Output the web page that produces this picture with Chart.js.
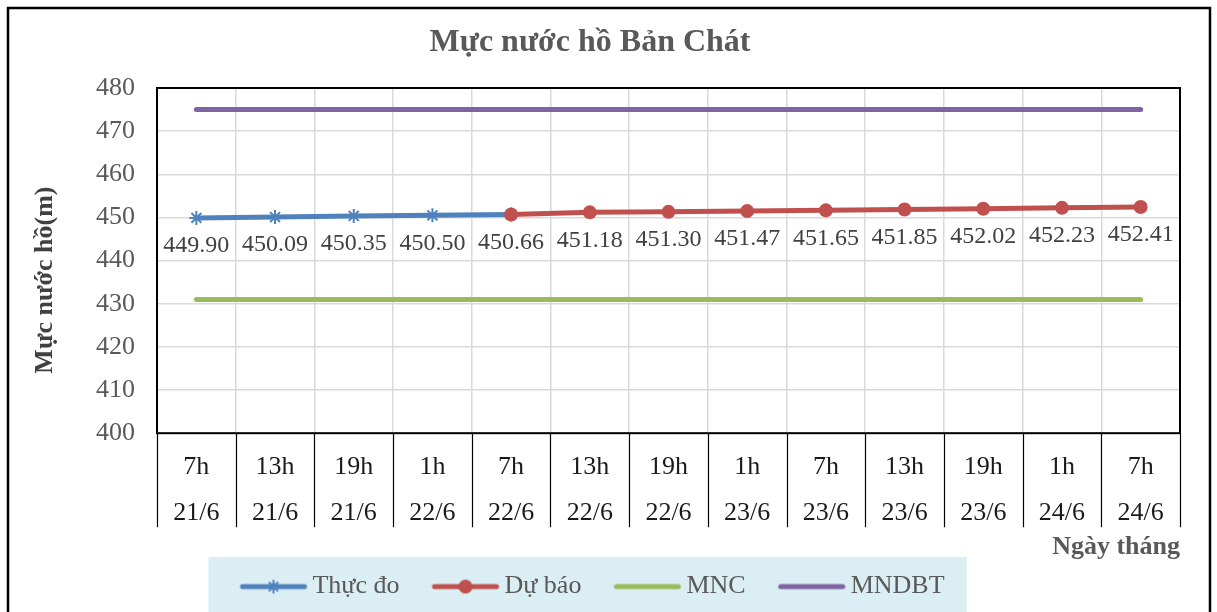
<!DOCTYPE html>
<html>
<head>
<meta charset="utf-8">
<script src="https://cdn.jsdelivr.net/npm/chart.js@4/dist/chart.umd.min.js"></script>
<style>
    body { margin: 0; background: #fff; }
</style>
</head>
<body>
<canvas id="chart-level" width="1217" height="612"></canvas>
<script>
// chart data
const hours = ['7h', '13h', '19h', '1h', '7h', '13h', '19h', '1h', '7h', '13h', '19h', '1h', '7h'];
const dates = ['21/6', '21/6', '21/6', '22/6', '22/6', '22/6', '22/6', '23/6', '23/6', '23/6', '23/6', '24/6', '24/6'];
const measured = [449.90, 450.09, 450.35, 450.50, 450.66, null, null, null, null, null, null, null, null];
const forecast = [null, null, null, null, 450.66, 451.18, 451.30, 451.47, 451.65, 451.85, 452.02, 452.23, 452.41];
const mnc = [431, 431, 431, 431, 431, 431, 431, 431, 431, 431, 431, 431, 431];
const mndbt = [475, 475, 475, 475, 475, 475, 475, 475, 475, 475, 475, 475, 475];
const yTicks = { min: 400, max: 480, step: 10 };

const SERIF = '"Liberation Serif", "Times New Roman", serif';
const BLUE = '#4F81BD';
const RED = '#C0504D';
const GREEN = '#9BBB59';
const PURPLE = '#8064A2';
const LEGEND_PAD = 40;
const LEGEND_SHIFT = -6;
const ICON_W = 70;
const BOX_W = 52;

function legendIcon(color, marker) {
    const c = document.createElement('canvas');
    c.width = ICON_W;
    c.height = 18;
    const ctx = c.getContext('2d');
    const mid = ICON_W / 2;
    ctx.strokeStyle = color;
    ctx.lineWidth = 5;
    ctx.lineCap = 'round';
    ctx.beginPath();
    ctx.moveTo(4, 9);
    ctx.lineTo(ICON_W - 4, 9);
    ctx.stroke();
    if (marker === 'circle') {
        ctx.fillStyle = color;
        ctx.beginPath();
        ctx.arc(mid, 9, 7, 0, Math.PI * 2);
        ctx.fill();
    } else if (marker === 'star') {
        ctx.lineWidth = 2;
        ctx.beginPath();
        ctx.moveTo(mid, 3); ctx.lineTo(mid, 15);
        ctx.moveTo(mid - 6, 9); ctx.lineTo(mid + 6, 9);
        ctx.moveTo(mid - 4, 5); ctx.lineTo(mid + 4, 13);
        ctx.moveTo(mid + 4, 5); ctx.lineTo(mid - 4, 13);
        ctx.stroke();
    }
    return c;
}

const icons = [legendIcon(BLUE, 'star'), legendIcon(RED, 'circle'), legendIcon(GREEN), legendIcon(PURPLE)];

const framePlugin = {
    id: 'frame',
    afterLayout(chart) {
        chart.legend.left -= LEGEND_SHIFT;
        chart.legend.right -= LEGEND_SHIFT;
    },
    beforeDraw(chart) {
        const ctx = chart.ctx;
        const lg = chart.legend;
        ctx.save();
        ctx.fillStyle = '#fff';
        ctx.fillRect(0, 0, chart.width, chart.height);
        // legend background
        if (lg.lineWidths) {
            const lw = lg.lineWidths[0];
            const start = (lg.left + LEGEND_PAD + lg.right - lw) / 2;
            const x0 = start - (ICON_W - BOX_W) / 2 - 30;
            const x1 = start + lw - LEGEND_PAD + 22;
            ctx.fillStyle = '#DAEEF3';
            ctx.fillRect(x0, 557, x1 - x0, chart.height - 557);
        }
        ctx.restore();
    },
    afterDraw(chart) {
        const ctx = chart.ctx;
        const area = chart.chartArea;
        ctx.save();
        ctx.strokeStyle = '#000';
        // outer border
        ctx.lineWidth = 2.5;
        ctx.strokeRect(8, 8, 1202, 700);
        // plot area border
        ctx.lineWidth = 2;
        ctx.strokeRect(area.left, area.top, area.right - area.left, area.bottom - area.top);
        // category dividers below the axis
        ctx.lineWidth = 1.2;
        const w = (area.right - area.left) / hours.length;
        ctx.beginPath();
        for (let i = 0; i <= hours.length; i++) {
            const px = Math.round(area.left + i * w) + 0.5;
            ctx.moveTo(px, area.bottom);
            ctx.lineTo(px, area.bottom + 94);
        }
        ctx.stroke();
        ctx.restore();
    }
};

const valueLabels = {
    id: 'valueLabels',
    afterDatasetsDraw(chart) {
        const ctx = chart.ctx;
        ctx.save();
        ctx.font = '24px ' + SERIF;
        ctx.fillStyle = '#404040';
        ctx.textAlign = 'center';
        ctx.textBaseline = 'middle';
        [0, 1].forEach(di => {
            const meta = chart.getDatasetMeta(di);
            const data = chart.data.datasets[di].data;
            meta.data.forEach((pt, i) => {
                if (data[i] === null) return;
                if (di === 1 && measured[i] !== null) return;
                ctx.fillText(data[i].toFixed(2), pt.x, pt.y + 28);
            });
        });
        ctx.restore();
    }
};

new Chart(document.getElementById('chart-level'), {
    type: 'line',
    data: {
        labels: hours.map((h, i) => [h, dates[i]]),
        datasets: [{
            label: 'Thực đo',
            data: measured,
            borderColor: BLUE,
            backgroundColor: BLUE,
            borderWidth: 5,
            pointStyle: 'star',
            pointRadius: 7,
            pointBorderWidth: 2,
            order: 2
        }, {
            label: 'Dự báo',
            data: forecast,
            borderColor: RED,
            backgroundColor: RED,
            borderWidth: 5,
            pointStyle: 'circle',
            pointRadius: 7,
            pointBorderWidth: 0,
            order: 1
        }, {
            label: 'MNC',
            data: mnc,
            borderColor: GREEN,
            backgroundColor: GREEN,
            borderWidth: 5,
            borderCapStyle: 'round',
            pointRadius: 0,
            order: 3
        }, {
            label: 'MNDBT',
            data: mndbt,
            borderColor: PURPLE,
            backgroundColor: PURPLE,
            borderWidth: 5,
            borderCapStyle: 'round',
            pointRadius: 0,
            order: 4
        }]
    },
    options: {
        responsive: false,
        animation: false,
        spanGaps: false,
        layout: { padding: { left: 0, right: 37, top: 0, bottom: 2.4 } },
        plugins: {
            title: {
                display: true,
                text: 'Mực nước hồ Bản Chát',
                color: '#595959',
                font: { family: SERIF, size: 32, weight: 'bold' },
                padding: { top: 24, bottom: 25.6 }
            },
            legend: {
                position: 'bottom',
                labels: {
                    usePointStyle: true,
                    pointStyleWidth: BOX_W,
                    generateLabels(chart) {
                        return chart.data.datasets.map((ds, i) => ({
                            text: ds.label,
                            datasetIndex: i,
                            pointStyle: icons[i],
                            fontColor: '#595959',
                            lineWidth: 0,
                            hidden: false
                        }));
                    },
                    color: '#595959',
                    padding: LEGEND_PAD,
                    font: { family: SERIF, size: 26 }
                }
            },
            tooltip: { enabled: false }
        },
        scales: {
            x: {
                offset: true,
                grid: { color: '#D9D9D9', lineWidth: 1.5, drawTicks: false, offset: true },
                border: { display: false },
                ticks: {
                    color: '#1a1a1a',
                    padding: 11,
                    maxRotation: 0,
                    autoSkip: false,
                    font: { family: SERIF, size: 26, lineHeight: 1.77 }
                },
                title: {
                    display: true,
                    text: 'Ngày tháng',
                    align: 'end',
                    color: '#595959',
                    font: { family: SERIF, size: 26, weight: 'bold' },
                    padding: { top: 0, bottom: -29.2 }
                },
                afterFit(scale) { scale.height = 100.4; }
            },
            y: {
                min: yTicks.min,
                max: yTicks.max,
                grid: { color: '#D9D9D9', lineWidth: 1.5, drawTicks: false },
                border: { display: false },
                ticks: {
                    stepSize: yTicks.step,
                    color: '#595959',
                    padding: 22,
                    font: { family: SERIF, size: 26 }
                },
                title: {
                    display: true,
                    text: 'Mực nước hồ(m)\u2003\u2002',
                    color: '#404040',
                    font: { family: SERIF, size: 26, weight: 'bold' },
                    padding: { top: 30, bottom: 0 }
                },
                afterFit(scale) { scale.width = 157; }
            }
        }
    },
    plugins: [framePlugin, valueLabels]
});
</script>
</body>
</html>
